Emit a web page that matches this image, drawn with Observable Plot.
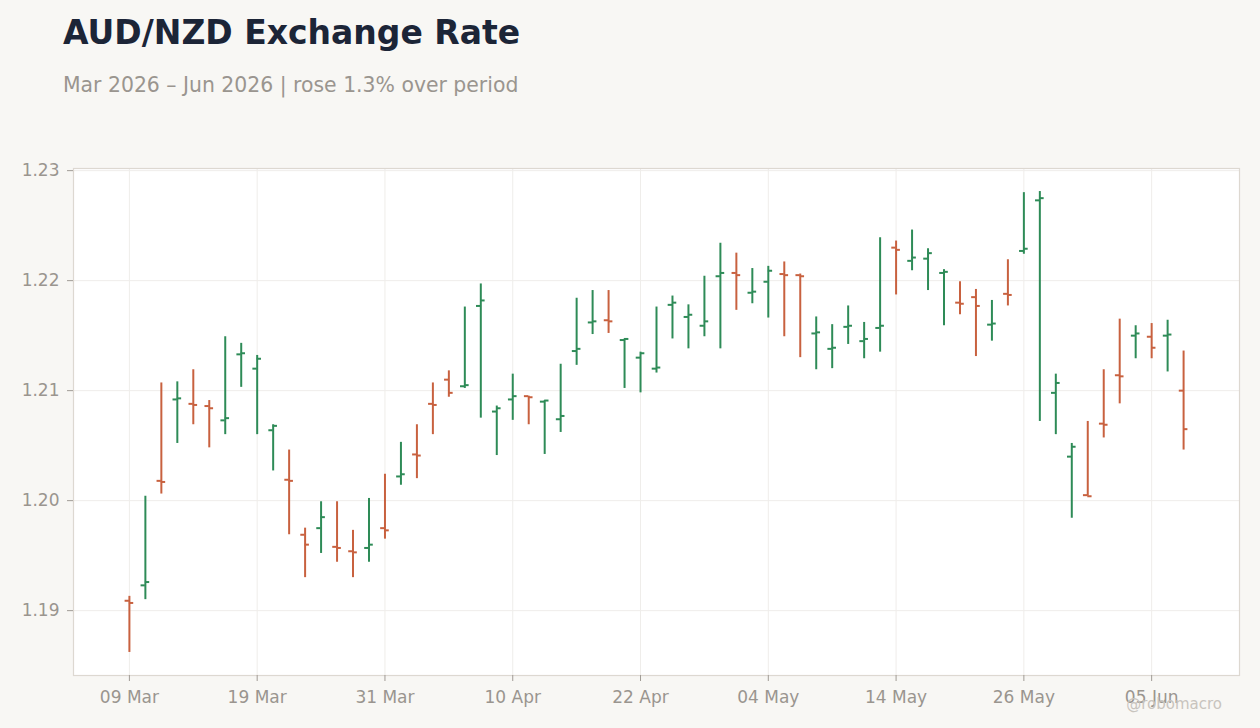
<!DOCTYPE html>
<html>
<head>
<meta charset="utf-8">
<script src="https://cdn.jsdelivr.net/npm/d3@7"></script>
<script src="https://cdn.jsdelivr.net/npm/@observablehq/plot@0.6"></script>
<style>
  html, body { margin: 0; padding: 0; background: #f8f7f4; }
  body { width: 1260px; height: 728px; position: relative; overflow: hidden; font-family: "DejaVu Sans", sans-serif; }
  #header { position: relative; height: 128px; }
  #title { position: absolute; left: 63px; top: 16px; font-size: 33px; line-height: 1; font-weight: bold; color: #1c2537; white-space: nowrap; }
  #subtitle { position: absolute; left: 63px; top: 75px; font-size: 20.4px; line-height: 1; color: #9a958f; white-space: nowrap; }
  #credit { position: absolute; right: 38px; top: 697px; font-size: 15px; line-height: 1; color: #c8c4be; white-space: nowrap; }
  #chart svg { display: block; }
</style>
</head>
<body>
<div id="header">
  <div id="title">AUD/NZD Exchange Rate</div>
  <div id="subtitle">Mar 2026 – Jun 2026 | rose 1.3% over period</div>
</div>
<div id="chart"></div>
<div id="credit">@robomacro</div>
<script>
// Trading days (business days)
const dates = [
  "09 Mar","10 Mar","11 Mar","12 Mar","13 Mar","16 Mar","17 Mar","18 Mar","19 Mar","20 Mar",
  "23 Mar","24 Mar","25 Mar","26 Mar","27 Mar","30 Mar","31 Mar",
  "01 Apr","02 Apr","03 Apr","06 Apr","07 Apr","08 Apr","09 Apr","10 Apr","13 Apr","14 Apr",
  "15 Apr","16 Apr","17 Apr","20 Apr","21 Apr","22 Apr","23 Apr","24 Apr","27 Apr","28 Apr",
  "29 Apr","30 Apr",
  "01 May","04 May","05 May","06 May","07 May","08 May","11 May","12 May","13 May","14 May",
  "15 May","18 May","19 May","20 May","21 May","22 May","25 May","26 May","27 May","28 May","29 May",
  "01 Jun","02 Jun","03 Jun","04 Jun","05 Jun","08 Jun","09 Jun"
];

const opens = [
  1.1909,1.1923,1.2018,1.2092,1.2088,1.2086,1.2073,1.2133,1.2120,1.2064,
  1.2019,1.1969,1.1975,1.1958,1.1954,1.1957,1.1975,1.2022,1.2042,1.2088,
  1.2110,1.2104,1.2177,1.2081,1.2092,1.2095,1.2090,1.2074,1.2136,1.2162,
  1.2164,1.2146,1.2130,1.2120,1.2178,1.2167,1.2159,1.2204,1.2207,1.2189,
  1.2199,1.2206,1.2205,1.2152,1.2138,1.2158,1.2145,1.2157,1.2230,1.2218,
  1.2220,1.2207,1.2180,1.2185,1.2160,1.2188,1.2227,1.2273,1.2098,1.2040,
  1.2005,1.2070,1.2114,1.2150,1.2149,1.2150,1.2100
];
const highs = [
  1.1913,1.2004,1.2107,1.2108,1.2119,1.2091,1.2149,1.2143,1.2132,1.2069,
  1.2046,1.1975,1.1999,1.1999,1.1973,1.2002,1.2024,1.2053,1.2069,1.2107,
  1.2118,1.2176,1.2197,1.2086,1.2115,1.2095,1.2091,1.2124,1.2184,1.2191,
  1.2191,1.2147,1.2135,1.2176,1.2186,1.2178,1.2204,1.2234,1.2225,1.2211,
  1.2213,1.2217,1.2206,1.2167,1.2160,1.2177,1.2162,1.2239,1.2236,1.2246,
  1.2229,1.2210,1.2199,1.2192,1.2182,1.2219,1.2280,1.2281,1.2115,1.2052,
  1.2072,1.2119,1.2165,1.2159,1.2161,1.2164,1.2136
];
const lows = [
  1.1862,1.1910,1.2006,1.2052,1.2069,1.2048,1.2060,1.2103,1.2060,1.2027,
  1.1969,1.1930,1.1952,1.1944,1.1930,1.1944,1.1965,1.2014,1.2020,1.2060,
  1.2094,1.2102,1.2075,1.2041,1.2073,1.2069,1.2042,1.2062,1.2123,1.2151,
  1.2152,1.2102,1.2098,1.2116,1.2147,1.2138,1.2149,1.2138,1.2173,1.2179,
  1.2166,1.2149,1.2130,1.2119,1.2120,1.2142,1.2129,1.2135,1.2187,1.2209,
  1.2191,1.2159,1.2169,1.2131,1.2145,1.2177,1.2224,1.2072,1.2060,1.1984,
  1.2004,1.2057,1.2088,1.2129,1.2129,1.2117,1.2046
];
const closes = [
  1.1907,1.1926,1.2017,1.2093,1.2087,1.2084,1.2075,1.2134,1.2129,1.2068,
  1.2018,1.1960,1.1985,1.1957,1.1953,1.1960,1.1973,1.2024,1.2041,1.2087,
  1.2098,1.2105,1.2182,1.2084,1.2095,1.2094,1.2091,1.2077,1.2138,1.2163,
  1.2163,1.2147,1.2134,1.2121,1.2180,1.2169,1.2163,1.2207,1.2205,1.2190,
  1.2209,1.2205,1.2204,1.2153,1.2139,1.2159,1.2147,1.2159,1.2228,1.2221,
  1.2225,1.2208,1.2179,1.2177,1.2161,1.2187,1.2229,1.2275,1.2107,1.2049,
  1.2004,1.2069,1.2113,1.2152,1.2139,1.2151,1.2065
];

const xTickLabels = ["09 Mar","19 Mar","31 Mar","10 Apr","22 Apr","04 May","14 May","26 May","05 Jun"];
const yTicks = [1.19, 1.20, 1.21, 1.22, 1.23];

const upColor = "#2e8b57";
const downColor = "#c8613f";
const textColor = "#9a958f";
const gridColor = "#efedea";

const data = dates.map((d, i) => ({
  i, date: d, open: opens[i], high: highs[i], low: lows[i], close: closes[i]
}));
const col = d => (d.close >= d.open ? upColor : downColor);

const lo = d3.min(lows), hi = d3.max(highs);
const pad = (hi - lo) * 0.05;
const xTicks = xTickLabels.map(l => dates.indexOf(l));
const tickHalf = 0.27;

const chart = Plot.plot({
  width: 1260,
  height: 600,
  marginTop: 40,
  marginBottom: 53,
  marginLeft: 73,
  marginRight: 21,
  style: { background: "transparent", fontFamily: "DejaVu Sans, sans-serif", fontSize: "17px", color: textColor },
  x: { type: "linear", domain: [-3.5, dates.length + 2.5] },
  y: { domain: [lo - pad, hi + pad] },
  color: { type: "identity" },
  marks: [
    Plot.frame({ fill: "white", stroke: "none" }),
    Plot.gridX(xTicks, { stroke: gridColor, strokeOpacity: 1 }),
    Plot.gridY(yTicks, { stroke: gridColor, strokeOpacity: 1 }),
    Plot.frame({ stroke: "#ddd8d1", strokeWidth: 1.2 }),
    Plot.axisX(xTicks, {
      tickFormat: i => dates[i], tickSize: 6, tickPadding: 9, label: null,
      stroke: "#a09b95", fill: textColor, fontSize: 17
    }),
    Plot.axisY(yTicks, {
      tickFormat: d3.format(".2f"), tickSize: 6, tickPadding: 8, label: null,
      stroke: "#a09b95", fill: textColor, fontSize: 17
    }),
    Plot.ruleX(data, { x: "i", y1: "low", y2: "high", stroke: col, strokeWidth: 2 }),
    Plot.ruleY(data, { y: "open", x1: d => d.i - tickHalf, x2: "i", stroke: col, strokeWidth: 2 }),
    Plot.ruleY(data, { y: "close", x1: "i", x2: d => d.i + tickHalf, stroke: col, strokeWidth: 2 })
  ]
});
document.getElementById("chart").appendChild(chart);
</script>
</body>
</html>
